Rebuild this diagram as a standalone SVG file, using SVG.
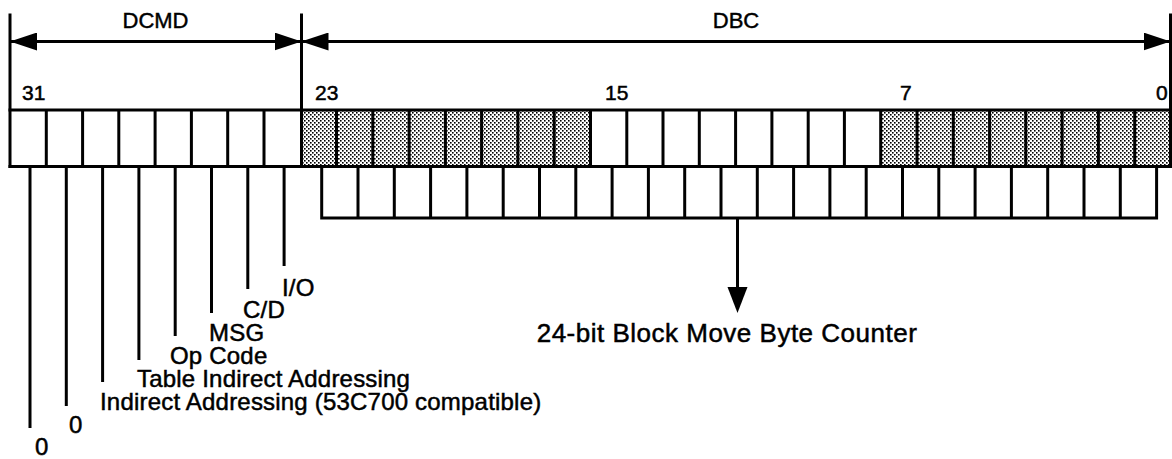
<svg xmlns="http://www.w3.org/2000/svg" width="1172" height="459" viewBox="0 0 1172 459">
<style>
.ln{stroke:#000;stroke-width:3;fill:none;stroke-linecap:square}
.lead{stroke:#000;stroke-width:3;fill:none}
.t{font-family:"Liberation Sans",Arial,sans-serif;font-size:24px;letter-spacing:0.2px;fill:#000;stroke:#000;stroke-width:0.5}
.c{font-family:"Liberation Sans",Arial,sans-serif;font-size:26px;letter-spacing:0.5px;fill:#000;stroke:#000;stroke-width:0.5}
.h{font-family:"Liberation Sans",Arial,sans-serif;font-size:22px;fill:#000;stroke:#000;stroke-width:0.45}
.n{font-family:"Liberation Sans",Arial,sans-serif;font-size:21px;fill:#000;stroke:#000;stroke-width:0.5}
</style>
<defs>
<pattern id="dots" width="4" height="4" patternUnits="userSpaceOnUse">
<rect width="4" height="4" fill="#fff"/>
<rect x="0" y="0" width="1.6" height="1.6" fill="#000"/>
<rect x="2" y="2" width="1.6" height="1.6" fill="#000"/>
</pattern>
<marker id="ah" markerUnits="userSpaceOnUse" viewBox="0 0 27 18" markerWidth="27" markerHeight="18" refX="27" refY="9" orient="auto-start-reverse">
<path d="M0,0 L27,9 L0,18 Z" fill="#000"/>
</marker>
</defs>

<g id="dcmd-field">
<text class="h" x="155.5" y="28" text-anchor="middle">DCMD</text>
<text class="n" x="22" y="100">31</text>
<path class="ln" d="M10 110H301.5M10 166.5H301.5M46.3 110V166.5M82.6 110V166.5M118.8 110V166.5M155.1 110V166.5M191.4 110V166.5M227.7 110V166.5M264 110V166.5"/>
</g>

<g id="dbc-field">
<text class="h" x="736" y="28" text-anchor="middle">DBC</text>
<text class="n" x="315" y="100">23</text>
<text class="n" x="605" y="100">15</text>
<text class="n" x="900" y="100">7</text>
<text class="n" x="1156" y="100">0</text>
<rect x="301.5" y="110" width="289" height="56.5" fill="url(#dots)"/>
<rect x="880.7" y="110" width="289.8" height="56.5" fill="url(#dots)"/>
<path class="ln" d="M301.5 110H1170.5M301.5 166.5H1170.5M336.5 110V166.5M372.8 110V166.5M409.1 110V166.5M445.4 110V166.5M481.6 110V166.5M517.9 110V166.5M554.2 110V166.5M590.5 110V166.5M626.8 110V166.5M663 110V166.5M699.3 110V166.5M735.6 110V166.5M771.9 110V166.5M808.2 110V166.5M844.4 110V166.5M880.7 110V166.5M917 110V166.5M953.3 110V166.5M989.6 110V166.5M1025.8 110V166.5M1062.1 110V166.5M1098.4 110V166.5M1134.7 110V166.5"/>
</g>

<g id="byte-counter">
<path class="ln" d="M321.7 218H1156.6M321.7 166.5V218M358 166.5V218M394.3 166.5V218M430.6 166.5V218M466.9 166.5V218M503.2 166.5V218M539.5 166.5V218M575.8 166.5V218M612.1 166.5V218M648.4 166.5V218M684.7 166.5V218M721 166.5V218M757.3 166.5V218M793.6 166.5V218M829.9 166.5V218M866.2 166.5V218M902.5 166.5V218M938.8 166.5V218M975.1 166.5V218M1011.4 166.5V218M1047.7 166.5V218M1084 166.5V218M1120.3 166.5V218M1156.6 166.5V218"/>
<text class="c" x="727" y="342" text-anchor="middle">24-bit Block Move Byte Counter</text>
</g>

<g id="bit-labels">
<text class="t" x="35" y="455">0</text>
<text class="t" x="69" y="433">0</text>
<text class="t" x="100" y="410">Indirect Addressing (53C700 compatible)</text>
<text class="t" x="137" y="387">Table Indirect Addressing</text>
<text class="t" x="170" y="364">Op Code</text>
<text class="t" x="209" y="341">MSG</text>
<text class="t" x="243" y="318">C/D</text>
<text class="t" x="282" y="296">I/O</text>
</g>

<g id="connectors">
<path class="ln" d="M10 15V166.5M301.5 15V166.5M1170.5 15V166.5"/>
<line class="lead" x1="10" y1="41.5" x2="301.5" y2="41.5" marker-start="url(#ah)" marker-end="url(#ah)"/>
<line class="lead" x1="301.5" y1="41.5" x2="1170.5" y2="41.5" marker-start="url(#ah)" marker-end="url(#ah)"/>
<path class="lead" d="M30 166V428M66.3 166V406M102.6 166V382M138.9 166V360M175.2 166V336M211.5 166V313M247.8 166V289M284.1 166V266"/>
<line class="lead" x1="737.5" y1="218" x2="737.5" y2="290"/>
<polygon points="727.5,287 747.5,287 737.5,313" fill="#000"/>
</g>
</svg>
